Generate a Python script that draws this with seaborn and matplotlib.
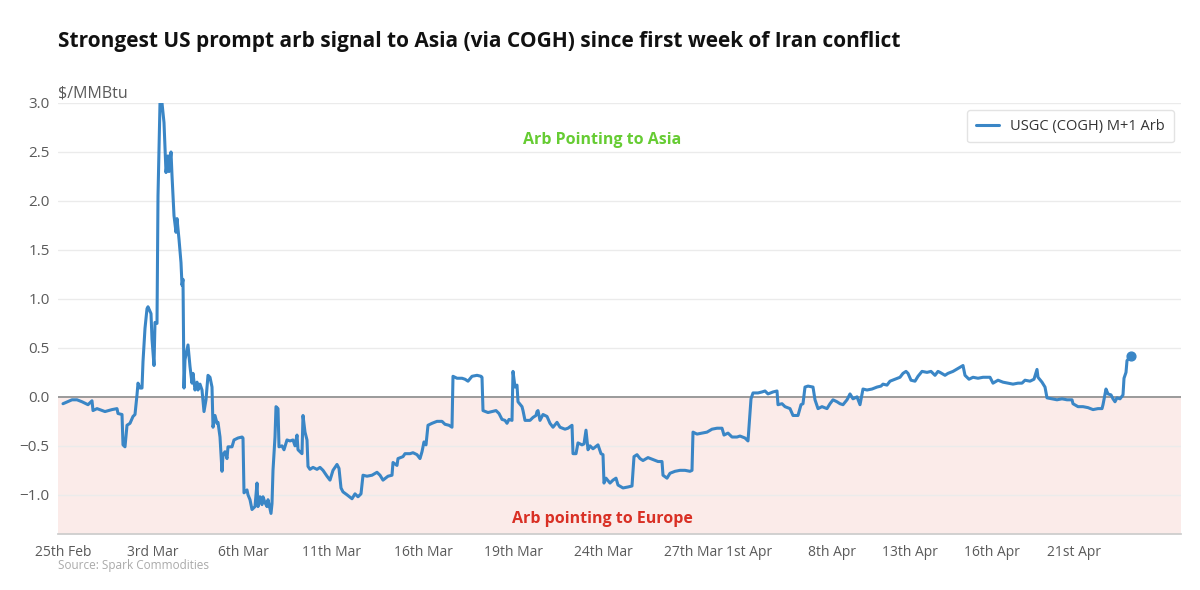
import matplotlib
matplotlib.use("Agg")
import matplotlib.pyplot as plt
import seaborn as sns
import pandas as pd

# observation index (intraday samples) and arb value in $/MMBtu
obs = [1, 10, 15, 20, 26, 30, 31, 35, 43, 50, 55, 56, 60, 61, 63, 65, 68, 71, 73, 75,
       76, 78, 80, 81, 83, 85, 86, 89, 90, 92, 93, 95, 96, 98, 100, 102, 104, 106, 107, 109,
       110, 112, 114, 115, 117, 119, 120, 121, 122, 123, 126, 128, 130, 131, 133, 135, 136, 138, 140, 142,
       144, 146, 148, 150, 151, 153, 155, 156, 158, 160, 161, 163, 165, 166, 170, 172, 176, 180, 181, 182,
       185, 186, 188, 190, 193, 195, 196, 198, 200, 201, 203, 205, 206, 209, 210, 211, 213, 214, 216, 217,
       220, 222, 225, 228, 231, 233, 235, 236, 240, 241, 243, 245, 246, 248, 251, 255, 258, 261, 265, 268,
       271, 275, 277, 279, 281, 285, 290, 293, 296, 299, 301, 305, 310, 315, 318, 321, 326, 330, 331, 335,
       336, 341, 343, 348, 351, 355, 358, 360, 362, 364, 366, 370, 375, 380, 383, 387, 390, 391, 395, 400,
       403, 406, 410, 415, 419, 420, 421, 426, 430, 434, 437, 440, 443, 445, 447, 450, 451, 453, 455, 456,
       460, 461, 463, 468, 471, 474, 475, 476, 478, 481, 485, 488, 491, 495, 498, 503, 506, 510, 511, 514,
       516, 520, 522, 524, 526, 528, 531, 536, 539, 541, 542, 544, 548, 551, 554, 556, 561, 566, 570, 572,
       575, 578, 581, 586, 591, 596, 600, 601, 605, 608, 613, 618, 623, 628, 630, 631, 635, 640, 645, 650,
       655, 660, 662, 666, 670, 675, 678, 683, 686, 689, 691, 696, 700, 703, 706, 711, 715, 716, 720, 723,
       728, 731, 736, 739, 741, 743, 746, 751, 753, 756, 760, 765, 768, 771, 775, 778, 781, 785, 788, 791,
       795, 798, 801, 805, 810, 815, 819, 821, 825, 828, 833, 838, 841, 844, 846, 849, 853, 856, 860, 865,
       869, 873, 876, 878, 883, 886, 891, 896, 901, 903, 907, 911, 916, 921, 928, 931, 936, 941, 946, 951,
       956, 960, 963, 968, 972, 975, 976, 980, 983, 985, 990, 995, 1000, 1005, 1010, 1011, 1016, 1021, 1026, 1031,
       1036, 1040, 1041, 1044, 1046, 1049, 1051, 1053, 1055, 1058, 1061, 1062, 1064, 1065, 1069]

arb = [-0.07, -0.03, -0.03, -0.05, -0.08, -0.04, -0.14, -0.12, -0.15, -0.13, -0.12, -0.17, -0.18, -0.49, -0.51, -0.29, -0.27, -0.20, -0.18, 0.02,
       0.14, 0.09, 0.09, 0.36, 0.70, 0.90, 0.92, 0.85, 0.59, 0.32, 0.76, 0.75, 2.05, 3.00, 3.00, 2.80, 2.29, 2.46, 2.30, 2.50,
       2.26, 1.85, 1.68, 1.82, 1.61, 1.37, 1.14, 1.20, 0.09, 0.38, 0.53, 0.31, 0.14, 0.24, 0.07, 0.15, 0.07, 0.13, 0.07, -0.15,
       -0.03, 0.22, 0.20, 0.10, -0.31, -0.19, -0.27, -0.26, -0.41, -0.76, -0.59, -0.56, -0.63, -0.51, -0.51, -0.44, -0.42, -0.41, -0.42, -0.98,
       -0.95, -1.00, -1.05, -1.15, -1.12, -0.88, -1.12, -1.02, -1.10, -1.02, -1.08, -1.12, -1.05, -1.19, -1.09, -0.75, -0.41, -0.10, -0.12, -0.51,
       -0.50, -0.54, -0.44, -0.45, -0.44, -0.50, -0.39, -0.54, -0.58, -0.19, -0.36, -0.44, -0.71, -0.74, -0.72, -0.74, -0.72, -0.75, -0.81, -0.85,
       -0.75, -0.69, -0.73, -0.93, -0.97, -1.00, -1.04, -0.99, -1.02, -0.99, -0.80, -0.81, -0.80, -0.77, -0.80, -0.85, -0.81, -0.80, -0.67, -0.70,
       -0.63, -0.61, -0.58, -0.58, -0.57, -0.59, -0.63, -0.56, -0.46, -0.49, -0.29, -0.27, -0.25, -0.25, -0.28, -0.29, -0.31, 0.21, 0.19, 0.19,
       0.18, 0.16, 0.21, 0.22, 0.21, 0.20, -0.14, -0.16, -0.15, -0.14, -0.17, -0.23, -0.24, -0.27, -0.23, -0.24, 0.26, 0.10, 0.12, -0.05,
       -0.10, -0.14, -0.24, -0.24, -0.21, -0.19, -0.15, -0.14, -0.24, -0.18, -0.20, -0.27, -0.31, -0.26, -0.31, -0.33, -0.32, -0.29, -0.58, -0.58,
       -0.47, -0.49, -0.48, -0.34, -0.54, -0.50, -0.53, -0.49, -0.58, -0.59, -0.88, -0.83, -0.88, -0.85, -0.83, -0.90, -0.93, -0.92, -0.91, -0.61,
       -0.59, -0.63, -0.65, -0.62, -0.64, -0.66, -0.66, -0.80, -0.83, -0.78, -0.76, -0.75, -0.75, -0.76, -0.75, -0.36, -0.38, -0.37, -0.36, -0.33,
       -0.32, -0.32, -0.39, -0.37, -0.41, -0.41, -0.40, -0.42, -0.45, -0.02, 0.04, 0.04, 0.05, 0.06, 0.03, 0.05, 0.06, -0.08, -0.07, -0.10,
       -0.12, -0.19, -0.19, -0.08, -0.07, 0.10, 0.11, 0.10, -0.03, -0.12, -0.10, -0.12, -0.07, -0.03, -0.05, -0.07, -0.08, -0.03, 0.03, -0.02,
       0.00, -0.08, 0.08, 0.07, 0.08, 0.10, 0.11, 0.13, 0.12, 0.16, 0.18, 0.20, 0.24, 0.26, 0.24, 0.17, 0.16, 0.21, 0.26, 0.25,
       0.26, 0.22, 0.26, 0.25, 0.22, 0.24, 0.26, 0.29, 0.32, 0.22, 0.18, 0.20, 0.19, 0.20, 0.20, 0.14, 0.17, 0.15, 0.14, 0.13,
       0.14, 0.14, 0.17, 0.16, 0.18, 0.28, 0.20, 0.15, 0.10, -0.01, -0.02, -0.03, -0.02, -0.03, -0.03, -0.07, -0.10, -0.10, -0.11, -0.13,
       -0.12, -0.12, -0.08, 0.08, 0.03, 0.02, -0.02, -0.05, -0.01, -0.02, 0.02, 0.19, 0.25, 0.37, 0.42]

tick_obs = [1, 91, 181, 270, 361, 451, 541, 631, 687, 770, 848, 930, 1012]
tick_labels = ["25th Feb", "3rd Mar", "6th Mar", "11th Mar", "16th Mar", "19th Mar", "24th Mar",
               "27th Mar", "1st Apr", "8th Apr", "13th Apr", "16th Apr", "21st Apr"]

df = pd.DataFrame({"obs": obs, "arb": arb})

sns.set_theme(style="white")
plt.rcParams["font.family"] = ["Open Sans", "DejaVu Sans"]

line_color = "#3a86c6"
grey_txt = "#5a5a5a"

fig = plt.figure(figsize=(12, 5.9), dpi=100)
ax = fig.add_axes([58 / 1200, 56 / 590, 1123 / 1200, 431 / 590])

ax.axhspan(-1.4, 0, color="#fbebe9", zorder=0)
for yv in [-1.0, -0.5, 0.5, 1.0, 1.5, 2.0, 2.5, 3.0]:
    ax.axhline(yv, color="#ebebeb", lw=1, zorder=1)
ax.axhline(0, color="#9a9a9a", lw=1.4, zorder=2)

sns.lineplot(data=df, x="obs", y="arb", ax=ax, color=line_color, lw=2.2,
             label="USGC (COGH) M+1 Arb", zorder=3)
ax.scatter(df["obs"].iloc[-1], df["arb"].iloc[-1], s=40, color=line_color, zorder=4)

ax.set_xlim(-4, 1119)
ax.set_ylim(-1.4, 3.0)
ax.set_yticks([-1.0, -0.5, 0.0, 0.5, 1.0, 1.5, 2.0, 2.5, 3.0])
ax.set_yticklabels(["−1.0", "−0.5", "0.0", "0.5", "1.0", "1.5", "2.0", "2.5", "3.0"])
ax.set_xticks(tick_obs)
ax.set_xticklabels(tick_labels)
ax.tick_params(axis="both", length=0, labelsize=10, colors=grey_txt)
ax.tick_params(axis="y", labelsize=11, pad=6)
ax.tick_params(axis="x", pad=8)
ax.set_xlabel("")
ax.set_ylabel("")
for s in ["top", "right", "left"]:
    ax.spines[s].set_visible(False)
ax.spines["bottom"].set_color("#cccccc")

ax.text(540, 2.62, "Arb Pointing to Asia", color="#66cc33", fontsize=11.5,
        fontweight="bold", ha="center", va="center")
ax.text(540, -1.245, "Arb pointing to Europe", color="#d93025", fontsize=11.5,
        fontweight="bold", ha="center", va="center")

leg = ax.legend(loc="upper right", bbox_to_anchor=(1174 / 1200, 1 - 110 / 590),
                bbox_transform=fig.transFigure, frameon=True, fontsize=10.5,
                handlelength=1.6, borderpad=0.6, borderaxespad=0, fancybox=True)
leg.get_frame().set_edgecolor("#dddddd")
for t in leg.get_texts():
    t.set_color("#333333")

fig.text(58 / 1200, 1 - 42 / 590,
         "Strongest US prompt arb signal to Asia (via COGH) since first week of Iran conflict",
         fontsize=15, fontweight="bold", color="#111111", ha="left", va="center")
fig.text(58 / 1200, 1 - 93 / 590, "\\$/MMBtu", fontsize=11.5, color=grey_txt,
         ha="left", va="center")
fig.text(58 / 1200, 1 - 565 / 590, "Source: Spark Commodities", fontsize=8.5,
         color="#aaaaaa", ha="left", va="center")

fig.savefig("out.png", dpi=100)
